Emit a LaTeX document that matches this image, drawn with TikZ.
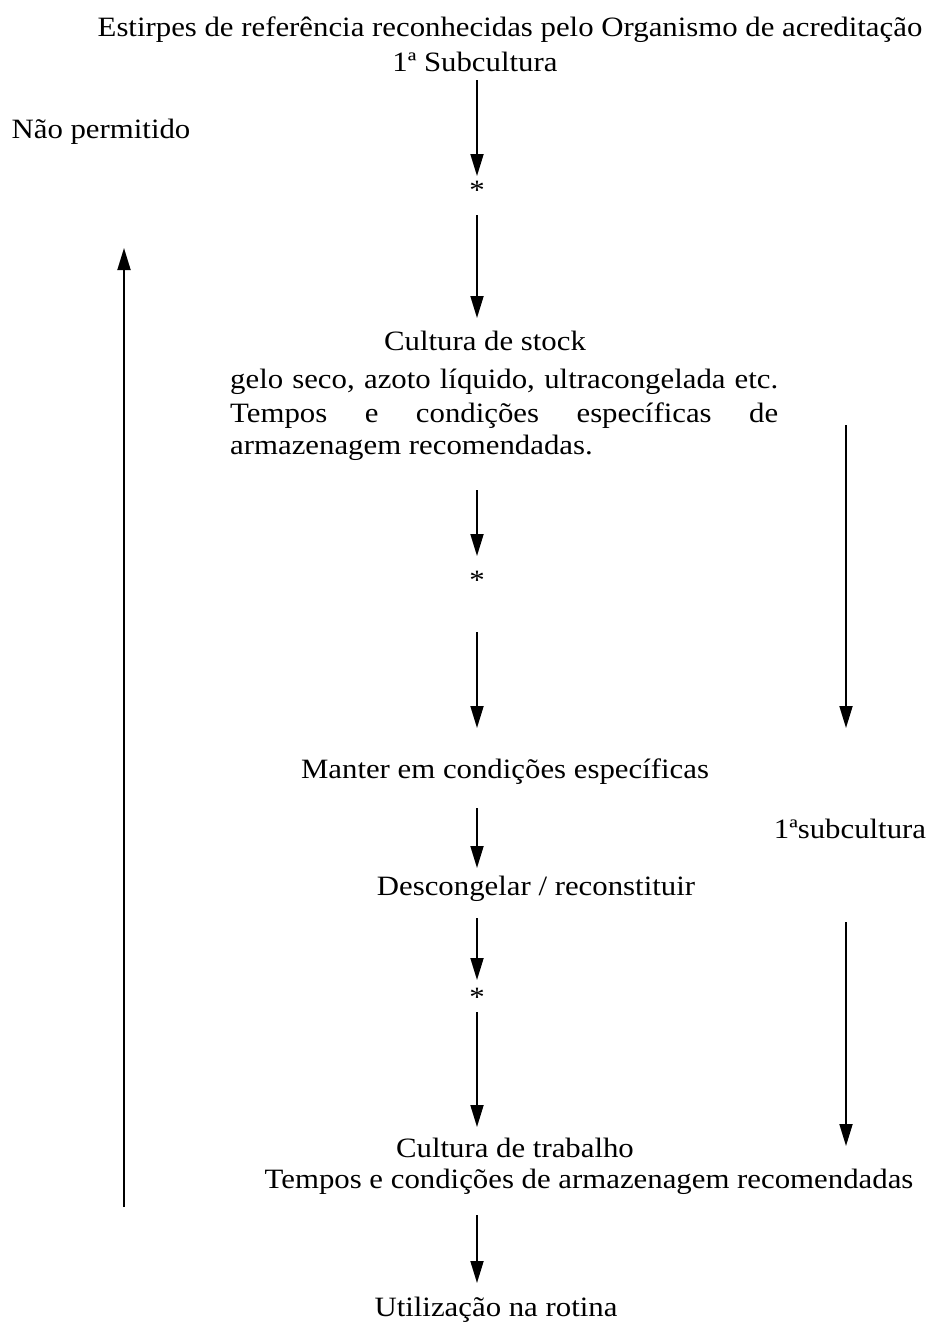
\documentclass[tikz,border=0pt]{standalone}
\usepackage{fontspec}
\setmainfont[FakeStretch=1.1]{Liberation Serif}
\usetikzlibrary{arrows.meta}
\begin{document}
\begin{tikzpicture}[x=1pt,y=-1pt,
  txt/.style={inner sep=0pt,font=\fontsize{28}{32}\selectfont},
  arr/.style={line width=1.8pt,-{Triangle[length=22pt,width=13pt]}}]
\useasboundingbox (0,0) rectangle (930,1328);
% texts
\node[txt] (t1) at (510,30) {Estirpes de referência reconhecidas pelo Organismo de acreditação};
\node[txt] (t2) at (475,62) {1ª Subcultura};
\node[txt] (np) at (101,132) {Não permitido};
\node[txt] (s1) at (477,190) {*};
\node[txt] (cs) at (485,341) {Cultura de stock};
\node[txt,anchor=west] (g1) at (230,382) {\makebox[548pt][s]{gelo seco, azoto líquido, ultracongelada etc.}};
\node[txt,anchor=west] (g2) at (230,416) {\makebox[548pt][s]{Tempos e condições específicas de}};
\node[txt,anchor=west] (g3) at (230,448) {armazenagem recomendadas.};
\node[txt] (s2) at (477,580) {*};
\node[txt] (mc) at (505,772) {Manter em condições específicas};
\node[txt] (sb) at (850,829) {1ªsubcultura};
\node[txt] (dr) at (536,889) {Descongelar / reconstituir};
\node[txt] (s3) at (477,997) {*};
\node[txt] (ct) at (515,1148) {Cultura de trabalho};
\node[txt] (tc) at (589,1182) {Tempos e condições de armazenagem recomendadas};
\node[txt] (ur) at (496,1310) {Utilização na rotina};
% arrow endpoints
\coordinate (a1s) at (477,80);   \coordinate (a1e) at (477,176);
\coordinate (a2s) at (477,215);  \coordinate (a2e) at (477,318);
\coordinate (a3s) at (477,490);  \coordinate (a3e) at (477,556);
\coordinate (a4s) at (477,632);  \coordinate (a4e) at (477,728);
\coordinate (a5s) at (477,808);  \coordinate (a5e) at (477,868);
\coordinate (a6s) at (477,918);  \coordinate (a6e) at (477,980);
\coordinate (a7s) at (477,1012); \coordinate (a7e) at (477,1127);
\coordinate (a8s) at (477,1215); \coordinate (a8e) at (477,1283);
\coordinate (r1s) at (846,425);  \coordinate (r1e) at (846,728);
\coordinate (r2s) at (846,922);  \coordinate (r2e) at (846,1146);
\coordinate (ls) at (124,1207);  \coordinate (le) at (124,248);
% arrows
\draw[arr] (a1s) -- (a1e);
\draw[arr] (a2s) -- (a2e);
\draw[arr] (a3s) -- (a3e);
\draw[arr] (a4s) -- (a4e);
\draw[arr] (a5s) -- (a5e);
\draw[arr] (a6s) -- (a6e);
\draw[arr] (a7s) -- (a7e);
\draw[arr] (a8s) -- (a8e);
\draw[arr] (r1s) -- (r1e);
\draw[arr] (r2s) -- (r2e);
\draw[arr] (ls) -- (le);
\end{tikzpicture}
\end{document}
